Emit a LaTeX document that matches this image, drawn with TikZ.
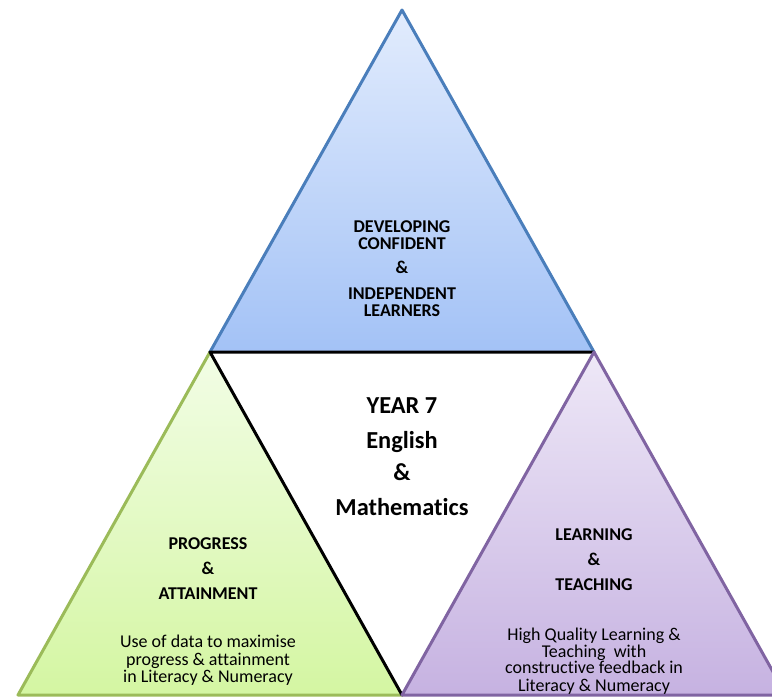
\documentclass[tikz,border=0pt]{standalone}
\usepackage{fontspec}
\setmainfont{Carlito}[Ligatures=NoCommon]
\definecolor{blueedge}{HTML}{4A7EBB}
\definecolor{greenedge}{HTML}{9BBB59}
\definecolor{purpleedge}{HTML}{8064A2}
\definecolor{blueA}{HTML}{E2ECFD}
\definecolor{blueB}{HTML}{A3C2F6}
\definecolor{greenA}{HTML}{F2FDE6}
\definecolor{greenB}{HTML}{D4F6A2}
\definecolor{purpleA}{HTML}{EEE8F7}
\definecolor{purpleB}{HTML}{C6B2E1}

\begin{document}
\begin{tikzpicture}
  [ x=0.75pt, y=-0.75pt,
    heading/.style={
      font=\fontsize{13.5}{16}\selectfont\bfseries,
      inner sep=0pt,
      anchor=base},
    body/.style={
      font=\fontsize{13.5}{16}\selectfont,
      inner sep=0pt,
      anchor=base},
    title/.style={
      font=\fontsize{18.3}{22}\selectfont\bfseries,
      inner sep=0pt,
      anchor=base},
    edge/.style={
      line width=2.25pt,
      line join=round,
      line cap=round},
  ]
  \useasboundingbox (0,0) rectangle (772,697);
  \clip (0,0) rectangle (772,697);

  % corners
  \coordinate (apex) at (402,10);
  \coordinate (west) at (210,352);
  \coordinate (east) at (594,352);
  \coordinate (sw) at (18,695);
  \coordinate (south) at (402,695);
  \coordinate (se) at (786,695);

  % triangles
  \shade[top color=blueA, bottom color=blueB] (apex) -- (west) -- (east) -- cycle;
  \shade[top color=greenA, bottom color=greenB] (west) -- (sw) -- (south) -- cycle;
  \shade[top color=purpleA, bottom color=purpleB] (east) -- (south) -- (se) -- cycle;

  \draw[edge, blueedge] (west) -- (apex) -- (east);
  \draw[edge, greenedge] (south) -- (sw) -- (west);
  \draw[edge, black] (east) -- (west) -- (south);
  \draw[edge, purpleedge] (se) -- (east) -- (south) -- (se);

  % top
  \node (dev) [heading] at (402,232.7) {DEVELOPING};
  \node (conf) [heading] at (402,249) {CONFIDENT};
  \node (amp1) [heading] at (402,273) {\&};
  \node (indep) [heading] at (402,299) {INDEPENDENT};
  \node (learners) [heading] at (402,316) {LEARNERS};

  % centre
  \node (year) [title] at (402,413) {YEAR 7};
  \node (english) [title] at (402,448) {English};
  \node (amp2) [title] at (402,480) {\&};
  \node (maths) [title] at (402,515) {Mathematics};

  % left
  \node (progress) [heading] at (208,549) {PROGRESS};
  \node (amp3) [heading] at (208,574) {\&};
  \node (attain) [heading] at (208,599) {ATTAINMENT};
  \node (data1) [body] at (208,647) {Use of data to maximise};
  \node (data2) [body] at (208,665) {progress \& attainment};
  \node (data3) [body] at (208,682) {in Literacy \& Numeracy};

  % right
  \node (learning) [heading] at (594,540.7) {LEARNING};
  \node (amp4) [heading] at (594,565.7) {\&};
  \node (teaching) [heading] at (594,590.7) {TEACHING};
  \node (hq1) [body] at (594,640) {High Quality Learning \&};
  \node (hq2) [body] at (594,657) {Teaching\ \ with};
  \node (hq3) [body] at (594,673) {constructive feedback in};
  \node (hq4) [body] at (594,691) {Literacy \& Numeracy};
\end{tikzpicture}
\end{document}
